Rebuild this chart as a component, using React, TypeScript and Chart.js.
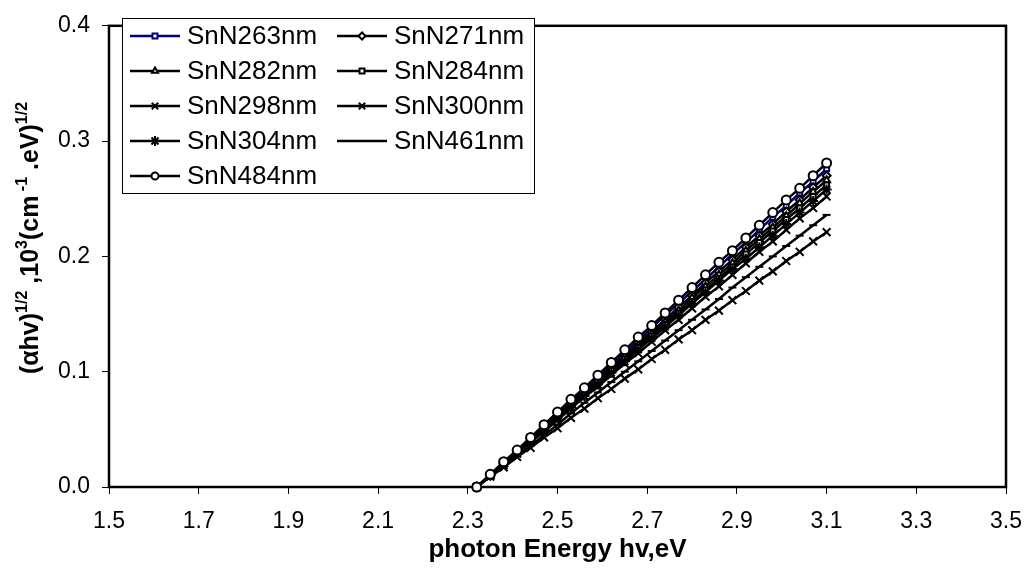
import React, { useEffect, useRef } from 'react';
import { Chart, registerables } from 'chart.js';
import { drawPoint } from 'chart.js/helpers';

Chart.register(...registerables);

// photon energy (eV)
const energy = [2.32, 2.35, 2.38, 2.41, 2.44, 2.47, 2.50, 2.53, 2.56, 2.59, 2.62, 2.65, 2.68, 2.71, 2.74, 2.77, 2.80, 2.83, 2.86, 2.89, 2.92, 2.95, 2.98, 3.01, 3.04, 3.07, 3.10];

const sn263 = [0, 0.011, 0.021, 0.032, 0.042, 0.053, 0.064, 0.074, 0.085, 0.096, 0.106, 0.117, 0.127, 0.138, 0.149, 0.159, 0.170, 0.180, 0.191, 0.202, 0.212, 0.223, 0.234, 0.244, 0.255, 0.265, 0.276];
const sn271 = [0, 0.010, 0.021, 0.031, 0.042, 0.052, 0.062, 0.073, 0.083, 0.093, 0.104, 0.114, 0.125, 0.135, 0.145, 0.156, 0.166, 0.177, 0.187, 0.197, 0.208, 0.218, 0.228, 0.239, 0.249, 0.260, 0.270];
const sn282 = [0, 0.010, 0.020, 0.031, 0.041, 0.051, 0.061, 0.072, 0.082, 0.092, 0.102, 0.113, 0.123, 0.133, 0.143, 0.153, 0.164, 0.174, 0.184, 0.194, 0.205, 0.215, 0.225, 0.235, 0.246, 0.256, 0.266];
const sn284 = [0, 0.010, 0.020, 0.030, 0.040, 0.050, 0.060, 0.071, 0.081, 0.091, 0.101, 0.111, 0.121, 0.131, 0.141, 0.151, 0.161, 0.171, 0.181, 0.191, 0.202, 0.212, 0.222, 0.232, 0.242, 0.252, 0.262];
const sn298 = [0, 0.010, 0.019, 0.029, 0.039, 0.048, 0.058, 0.068, 0.078, 0.087, 0.097, 0.107, 0.116, 0.126, 0.136, 0.145, 0.155, 0.165, 0.174, 0.184, 0.194, 0.204, 0.213, 0.223, 0.233, 0.242, 0.252];
const sn300 = [0, 0.009, 0.017, 0.026, 0.034, 0.043, 0.051, 0.060, 0.068, 0.077, 0.085, 0.094, 0.102, 0.111, 0.119, 0.128, 0.136, 0.145, 0.153, 0.162, 0.170, 0.179, 0.187, 0.196, 0.204, 0.213, 0.221];
const sn304 = [0, 0.010, 0.020, 0.030, 0.040, 0.050, 0.060, 0.069, 0.079, 0.089, 0.099, 0.109, 0.119, 0.129, 0.139, 0.149, 0.159, 0.169, 0.179, 0.189, 0.198, 0.208, 0.218, 0.228, 0.238, 0.248, 0.258];
const sn461 = [0, 0.009, 0.018, 0.027, 0.036, 0.045, 0.054, 0.064, 0.073, 0.082, 0.091, 0.100, 0.109, 0.118, 0.127, 0.136, 0.145, 0.154, 0.163, 0.173, 0.182, 0.191, 0.200, 0.209, 0.218, 0.227, 0.236];
const sn484 = [0, 0.011, 0.022, 0.032, 0.043, 0.054, 0.065, 0.076, 0.086, 0.097, 0.108, 0.119, 0.130, 0.140, 0.151, 0.162, 0.173, 0.184, 0.195, 0.205, 0.216, 0.227, 0.238, 0.249, 0.259, 0.270, 0.281];

const seriesNames = ['SnN263nm', 'SnN271nm', 'SnN282nm', 'SnN284nm', 'SnN298nm', 'SnN300nm', 'SnN304nm', 'SnN461nm', 'SnN484nm'];
const seriesValues = [sn263, sn271, sn282, sn284, sn298, sn300, sn304, sn461, sn484];
const seriesColors = ['#000080', '#000000', '#000000', '#000000', '#000000', '#000000', '#000000', '#000000', '#000000'];
const seriesMarkers = ['rect', 'rectRot', 'triangle', 'rect', 'crossRot', 'crossRot', 'star', 'line', 'circle'];
const markerRadius = [3.5, 4, 4, 3.5, 5.5, 5.5, 5, 4, 4.5];
const legendMarkerRadius = [3.5, 3.5, 3.5, 3.5, 4.5, 4.5, 5, 3, 3.5];

const xTickMin = 1.5;
const xTickMax = 3.5;
const xTickStep = 0.2;
const yTickMin = 0;
const yTickMax = 0.4;
const yTickStep = 0.1;

const FONT = '"Liberation Sans", Arial, sans-serif';

const framePlugin = {
  id: 'frame',
  beforeDatasetsDraw(chart: any) {
    const { ctx, chartArea: a } = chart;
    ctx.save();
    ctx.strokeStyle = '#000';
    ctx.lineWidth = 2.5;
    ctx.strokeRect(a.left, a.top, a.right - a.left, a.bottom - a.top);
    ctx.restore();
  },
};

const legendPlugin = {
  id: 'customLegend',
  afterDraw(chart: any) {
    const { ctx } = chart;
    ctx.save();
    ctx.fillStyle = '#fff';
    ctx.fillRect(122, 18, 412, 175);
    ctx.strokeStyle = '#000';
    ctx.lineWidth = 1;
    ctx.strokeRect(122.5, 18.5, 412, 175);
    const rowY = [36, 71, 106, 141, 176];
    const colX = [130, 337];
    ctx.font = `26px ${FONT}`;
    ctx.textBaseline = 'middle';
    chart.data.datasets.forEach((ds: any, i: number) => {
      const r = Math.floor(i / 2);
      const c = i % 2;
      const x0 = colX[c];
      const y = rowY[r];
      ctx.strokeStyle = ds.borderColor;
      ctx.lineWidth = 2.5;
      ctx.beginPath();
      ctx.moveTo(x0, y);
      ctx.lineTo(x0 + 50, y);
      ctx.stroke();
      ctx.fillStyle = '#fff';
      ctx.strokeStyle = ds.borderColor;
      ctx.lineWidth = 2;
      drawPoint(ctx, { pointStyle: ds.pointStyle, radius: legendMarkerRadius[i], rotation: 0, borderWidth: 2 } as any, x0 + 25, y);
      ctx.fillStyle = '#000';
      ctx.fillText(ds.label, x0 + 57, y + 1);
    });
    ctx.restore();
  },
};

const titlesPlugin = {
  id: 'axisTitles',
  afterDraw(chart: any) {
    const { ctx, chartArea: a } = chart;
    ctx.save();
    // x title
    ctx.fillStyle = '#000';
    ctx.font = `bold 26px ${FONT}`;
    ctx.textAlign = 'center';
    ctx.textBaseline = 'alphabetic';
    ctx.fillText('photon Energy hv,eV', (a.left + a.right) / 2, 557);
    // y title with superscripts
    const segs = [
      { t: '(\u03b1hv)', sup: false },
      { t: '1/2', sup: true },
      { t: ' ,10', sup: false },
      { t: '3', sup: true },
      { t: '(cm', sup: false },
      { t: ' -1', sup: true },
      { t: ' .eV)', sup: false },
      { t: '1/2', sup: true },
    ];
    const mainFont = `bold 25px ${FONT}`;
    const supFont = `bold 16px ${FONT}`;
    let total = 0;
    const widths = segs.map((s) => {
      ctx.font = s.sup ? supFont : mainFont;
      const w = ctx.measureText(s.t).width;
      total += w;
      return w;
    });
    ctx.translate(38, 238);
    ctx.rotate(-Math.PI / 2);
    ctx.textAlign = 'left';
    let x = -total / 2;
    segs.forEach((s, i) => {
      ctx.font = s.sup ? supFont : mainFont;
      ctx.fillText(s.t, x, s.sup ? -11 : 0);
      x += widths[i];
    });
    ctx.restore();
  },
};

export default function App() {
  const ref = useRef<HTMLCanvasElement>(null);
  useEffect(() => {
    if (!ref.current) return;
    const datasets = seriesNames.map((name, i) => ({
      label: name,
      data: energy.map((e, k) => ({ x: e, y: seriesValues[i][k] })),
      borderColor: seriesColors[i],
      backgroundColor: '#ffffff',
      pointBorderColor: seriesColors[i],
      pointBackgroundColor: '#ffffff',
      pointStyle: seriesMarkers[i],
      pointRadius: markerRadius[i],
      pointBorderWidth: 2,
      borderWidth: 2.5,
      fill: false,
      tension: 0,
      clip: false,
      order: seriesNames.length - i,
    }));
    const chart = new Chart(ref.current, {
      type: 'line',
      data: { datasets },
      options: {
        animation: false,
        responsive: false,
        devicePixelRatio: 1,
        layout: { padding: { top: 15, right: 20, left: 0, bottom: 0 } },
        plugins: { legend: { display: false }, tooltip: { enabled: false } },
        scales: {
          x: {
            type: 'linear',
            min: xTickMin,
            max: xTickMax,
            afterFit: (s: any) => { s.height = 83; },
            border: { display: false },
            grid: { drawOnChartArea: false, drawTicks: true, tickLength: 7, color: '#000', lineWidth: 1 },
            ticks: {
              stepSize: xTickStep,
              color: '#000',
              padding: 14,
              font: { family: FONT, size: 23 },
              callback: (v: any) => Number(v).toFixed(1),
              maxRotation: 0,
              autoSkip: false,
            },
          },
          y: {
            type: 'linear',
            min: yTickMin,
            max: yTickMax,
            afterFit: (s: any) => { s.width = 109; },
            border: { display: false },
            grid: { drawOnChartArea: false, drawTicks: true, tickLength: 7, color: '#000', lineWidth: 1 },
            ticks: {
              stepSize: yTickStep,
              color: '#000',
              padding: 12,
              font: { family: FONT, size: 23 },
              callback: (v: any) => Number(v).toFixed(1),
            },
          },
        },
      },
      plugins: [framePlugin, legendPlugin, titlesPlugin],
    } as any);
    return () => chart.destroy();
  }, []);
  return (
    <div style={{ position: 'fixed', left: 0, top: 0, width: 1036, height: 570, background: '#fff' }}>
      <canvas ref={ref} width={1036} height={570} style={{ width: 1036, height: 570, display: 'block' }} />
    </div>
  );
}
